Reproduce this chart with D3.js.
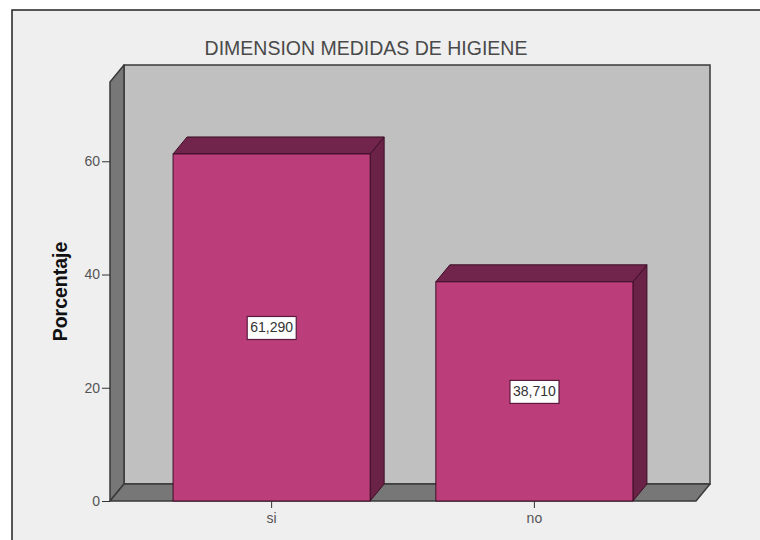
<!DOCTYPE html>
<html>
<head>
<meta charset="utf-8">
<script src="https://cdn.jsdelivr.net/npm/d3@7"></script>
<style>
  html, body { margin: 0; padding: 0; background: #ffffff; }
  svg { display: block; }
  text { font-family: "Liberation Sans", Arial, sans-serif; }
</style>
</head>
<body>
<svg id="chart" width="760" height="540"></svg>
<script>
// Data
const categories = ["si", "no"];
const percentages = [61.290, 38.710];
const valueLabels = ["61,290", "38,710"];
const yTicks = [0, 20, 40, 60];
const chartTitle = "DIMENSION MEDIDAS DE HIGIENE";
const yTitle = "Porcentaje";

(function drawChart() {
  const svg = d3.select("#chart");
  const W = 760, H = 540;

  // Depth offset of the pseudo-3D box
  const dx = 14, dy = -17;

  // Plot area (front plane)
  const plotLeft = 110, plotRight = 696, plotTop = 82, plotBottom = 501;

  const x = d3.scaleBand()
    .domain(categories)
    .range([plotLeft, plotRight])
    .paddingInner(0.25)
    .paddingOuter(0.24);

  const y = d3.scaleLinear()
    .domain([0, 74])
    .range([plotBottom, plotTop]);

  const pts = arr => arr.map(p => p.join(",")).join(" ");

  // Outer frame
  svg.append("rect")
    .attr("x", 12).attr("y", 10)
    .attr("width", W + 20).attr("height", H + 20)
    .attr("fill", "#efefef")
    .attr("stroke", "#222").attr("stroke-width", 1.5);

  // Title
  svg.append("text")
    .attr("x", 366).attr("y", 55)
    .attr("text-anchor", "middle")
    .attr("font-size", 19.5)
    .attr("fill", "#4a4a4a")
    .text(chartTitle);

  const wallStroke = "#3a3a3a";

  // Back wall
  svg.append("rect")
    .attr("x", plotLeft + dx).attr("y", plotTop + dy)
    .attr("width", plotRight - plotLeft).attr("height", plotBottom - plotTop)
    .attr("fill", "#c0c0c0")
    .attr("stroke", wallStroke).attr("stroke-width", 1.5);

  // Left side wall
  svg.append("polygon")
    .attr("points", pts([
      [plotLeft, plotTop], [plotLeft + dx, plotTop + dy],
      [plotLeft + dx, plotBottom + dy], [plotLeft, plotBottom]
    ]))
    .attr("fill", "#777777")
    .attr("stroke", wallStroke).attr("stroke-width", 1.5)
    .attr("stroke-linejoin", "round");

  // Floor
  svg.append("polygon")
    .attr("points", pts([
      [plotLeft, plotBottom], [plotLeft + dx, plotBottom + dy],
      [plotRight + dx, plotBottom + dy], [plotRight, plotBottom]
    ]))
    .attr("fill", "#777777")
    .attr("stroke", wallStroke).attr("stroke-width", 1.5)
    .attr("stroke-linejoin", "round");

  // Bars
  const data = categories.map((c, i) => ({ cat: c, val: percentages[i], label: valueLabels[i] }));
  const barStroke = "#3d0f27";

  const bars = svg.append("g").selectAll("g.bar")
    .data(data).join("g").attr("class", "bar");

  // Side face
  bars.append("polygon")
    .attr("points", d => {
      const x1 = x(d.cat) + x.bandwidth(), yt = y(d.val), y0 = y(0);
      return pts([[x1, yt], [x1 + dx, yt + dy], [x1 + dx, y0 + dy], [x1, y0]]);
    })
    .attr("fill", "#6a2246")
    .attr("stroke", barStroke).attr("stroke-width", 1);

  // Top face
  bars.append("polygon")
    .attr("points", d => {
      const x0 = x(d.cat), x1 = x0 + x.bandwidth(), yt = y(d.val);
      return pts([[x0, yt], [x0 + dx, yt + dy], [x1 + dx, yt + dy], [x1, yt]]);
    })
    .attr("fill", "#72254c")
    .attr("stroke", barStroke).attr("stroke-width", 1);

  // Front face
  bars.append("rect")
    .attr("x", d => x(d.cat))
    .attr("y", d => y(d.val))
    .attr("width", x.bandwidth())
    .attr("height", d => y(0) - y(d.val))
    .attr("fill", "#bb3e7b")
    .attr("stroke", barStroke).attr("stroke-width", 1);

  // Value labels
  bars.each(function(d) {
    const g = d3.select(this);
    const cx = x(d.cat) + x.bandwidth() / 2;
    const cy = (y(d.val) + y(0)) / 2;
    const t = g.append("text")
      .attr("x", cx).attr("y", cy + 5)
      .attr("text-anchor", "middle")
      .attr("font-size", 14)
      .attr("fill", "#333")
      .text(d.label);
    const bb = t.node().getBBox();
    g.insert("rect", "text")
      .attr("x", bb.x - 3).attr("y", cy - 11)
      .attr("width", bb.width + 6).attr("height", 23)
      .attr("fill", "#ffffff")
      .attr("stroke", "#5a1a3a").attr("stroke-width", 1.2);
  });

  // Y axis
  const yAxis = svg.append("g")
    .attr("transform", `translate(${plotLeft},0)`)
    .call(d3.axisLeft(y).tickValues(yTicks).tickSize(8).tickPadding(2).tickFormat(d3.format("d")));
  yAxis.select(".domain").remove();
  yAxis.selectAll(".tick line").attr("stroke", "#333");
  yAxis.selectAll(".tick text")
    .attr("font-size", 14)
    .attr("font-family", "Liberation Sans, Arial, sans-serif")
    .attr("fill", "#555");

  // X axis
  const xAxis = svg.append("g")
    .attr("transform", `translate(0,${plotBottom})`)
    .call(d3.axisBottom(x).tickSize(7).tickPadding(5));
  xAxis.select(".domain").remove();
  xAxis.selectAll(".tick line").attr("stroke", "#333");
  xAxis.selectAll(".tick text")
    .attr("font-size", 14)
    .attr("font-family", "Liberation Sans, Arial, sans-serif")
    .attr("fill", "#555");

  // Y axis title
  svg.append("text")
    .attr("transform", `translate(67,${(plotTop + plotBottom) / 2}) rotate(-90)`)
    .attr("text-anchor", "middle")
    .attr("font-size", 19.5)
    .attr("font-weight", "bold")
    .attr("fill", "#111")
    .text(yTitle);
})();
</script>
</body>
</html>
